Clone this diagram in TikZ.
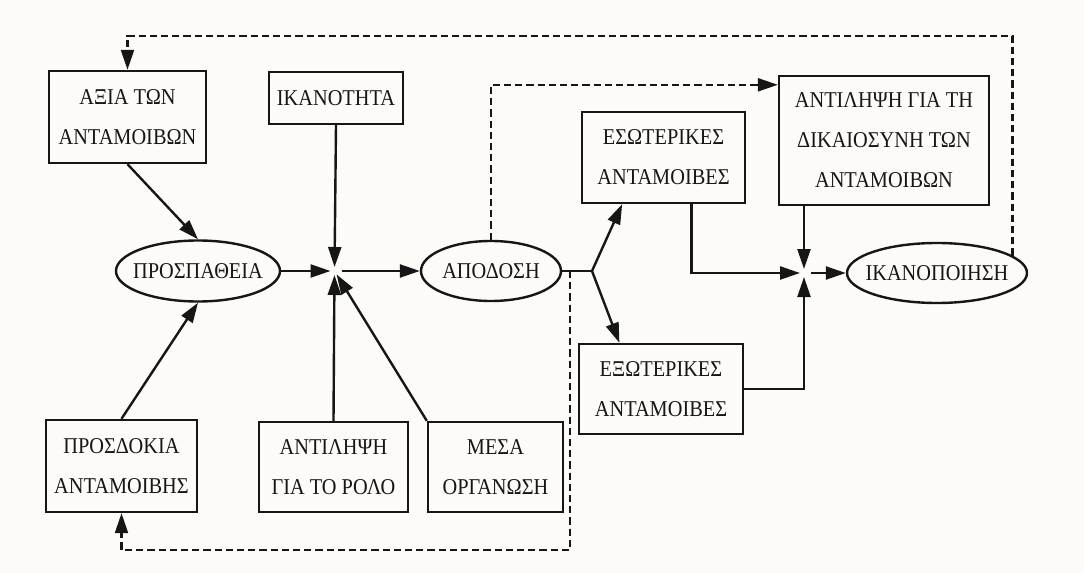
\documentclass[tikz,border=0pt]{standalone}
\usepackage{fontspec}
\setmainfont[FakeStretch=0.9]{Liberation Serif}
\usetikzlibrary{arrows.meta,calc,shapes.geometric}
\definecolor{ink}{HTML}{161616}
\definecolor{paper}{HTML}{FCFBF7}

\begin{document}
\begin{tikzpicture}[
  x=0.5pt, y=-0.5pt,
  every node/.style={font=\fontsize{11.3}{20}\selectfont, text=ink, align=center},
  box/.style={rectangle, draw=ink, line width=1.2pt, inner sep=0pt},
  oval/.style={ellipse, draw=ink, line width=1.2pt, inner xsep=-6pt, inner ysep=4pt},
  arrow/.style={-{Triangle[length=10pt,width=6.5pt]}, line width=1.2pt, color=ink},
  arrow in/.style={arrow, shorten >=2pt},
  arrow fb/.style={arrow, line width=1.1pt, dash pattern=on 3.6pt off 2pt},
  link/.style={line width=1.2pt, color=ink}
]
\fill[paper] (0,0) rectangle (1084,573);
\useasboundingbox (0,0) rectangle (1084,573);

% --- boxes
\node[box, minimum width=78.5pt, minimum height=46pt] (axia)   at (127.5,117) {ΑΞΙΑ ΤΩΝ\\ΑΝΤΑΜΟΙΒΩΝ};
\node[box, minimum width=67pt,   minimum height=26pt] (ikanot) at (336,98)    {ΙΚΑΝΟΤΗΤΑ};
\node[box, minimum width=75.5pt, minimum height=46pt] (prosd)  at (121.5,466) {ΠΡΟΣΔΟΚΙΑ\\ΑΝΤΑΜΟΙΒΗΣ};
\node[box, minimum width=74.5pt, minimum height=45pt] (rolo)   at (333.5,467) {ΑΝΤΙΛΗΨΗ\\ΓΙΑ ΤΟ ΡΟΛΟ};
\node[box, minimum width=67.5pt, minimum height=45pt] (mesa)   at (495.5,467) {ΜΕΣΑ\\ΟΡΓΑΝΩΣΗ};
\node[box, minimum width=81.5pt, minimum height=45.5pt] (esot) at (663.5,157.5) {ΕΣΩΤΕΡΙΚΕΣ\\ΑΝΤΑΜΟΙΒΕΣ};
\node[box, minimum width=82pt,   minimum height=45pt] (exot)   at (661,389)   {ΕΞΩΤΕΡΙΚΕΣ\\ΑΝΤΑΜΟΙΒΕΣ};
\node[box, minimum width=105pt,  minimum height=64.5pt] (dikai) at (884,140.5) {ΑΝΤΙΛΗΨΗ ΓΙΑ ΤΗ\\ΔΙΚΑΙΟΣΥΝΗ ΤΩΝ\\ΑΝΤΑΜΟΙΒΩΝ};

% --- ovals
\node[oval, minimum width=82pt, minimum height=30.5pt] (prosp)  at (198,271) {ΠΡΟΣΠΑΘΕΙΑ};
\node[oval, minimum width=70pt, minimum height=30pt]   (apod)   at (491,271) {ΑΠΟΔΟΣΗ};
\node[oval, minimum width=90pt, minimum height=30pt]   (ikanop) at (937,273) {ΙΚΑΝΟΠΟΙΗΣΗ};

% --- junctions
\coordinate (j1)   at (334.5,271);
\coordinate (fork) at (592,271);
\coordinate (j2)   at (804,273);
\coordinate (tap)  at (570,271);
\coordinate (top)  at (0,36);
\coordinate (bot)  at (0,550);
\coordinate (dikai in) at ($(dikai.north west)+(0,10)$);

% --- effort
\draw[arrow] (axia.south) -- (prosp.north);
\draw[arrow] (prosd.north) -- (prosp.south);

% --- performance
\draw[arrow in] (prosp.east) -- (j1);
\draw[arrow in] (ikanot.south) -- (j1);
\draw[arrow in] (rolo.north) -- (j1);
\draw[arrow in] (mesa.north west) -- (j1);
\draw[arrow, shorten <=3.5pt] (j1) -- (apod.west);

% --- rewards
\draw[link] (apod.east) -- (fork);
\draw[arrow] (fork) -- ($(esot.south west)!0.25!(esot.south east)$);
\draw[arrow] (fork) -- ($(exot.north west)!0.25!(exot.north east)$);

% --- satisfaction
\draw[arrow in] ($(esot.south west)!0.67!(esot.south east)$) |- (j2);
\draw[arrow in] (j2 |- dikai.south) -- (j2);
\draw[arrow in] (exot.east) -| (j2);
\draw[arrow, shorten <=3.5pt] (j2) -- (ikanop.west);

% --- feedback
\draw[arrow fb] (ikanop.13) -- (ikanop.13 |- top) -| (axia.north);
\draw[arrow fb] (apod.north) |- (dikai in);
\draw[arrow fb] (tap) -- (tap |- bot) -| (prosd.south);

\end{tikzpicture}
\end{document}
